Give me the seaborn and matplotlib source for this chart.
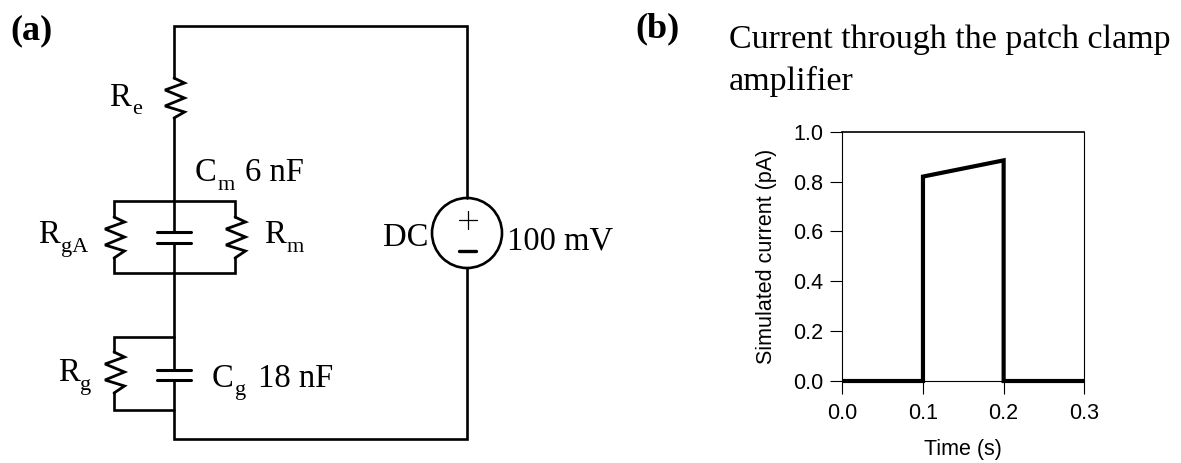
import matplotlib
matplotlib.use('Agg')
import matplotlib.pyplot as plt
import pandas as pd
import seaborn as sns

# Current trace, panel (b)
time_s = [0.0, 0.1, 0.1, 0.2, 0.2, 0.3]
current_pa = [0.0, 0.0, 0.82, 0.885, 0.0, 0.0]
x_ticks = [0.0, 0.1, 0.2, 0.3]
y_ticks = [0.0, 0.2, 0.4, 0.6, 0.8, 1.0]

# Circuit wires, panel (a), in image pixels
wires = [
    [(174, 78), (174, 26), (467, 26), (467, 198)],
    [(467, 268), (467, 439), (174, 439), (174, 380)],
    [(174, 118), (174, 232)],
    [(114, 217), (114, 201), (235, 201), (235, 217)],
    [(114, 258), (114, 273), (235, 273), (235, 258)],
    [(174, 243), (174, 370)],
    [(114, 352), (114, 337), (174, 337)],
    [(114, 393), (114, 410), (174, 410)],
]
resistors = [(174, 78, 118), (114, 217, 258), (235, 217, 258), (114, 352, 393)]
plates = [(157, 191, 232), (157, 191, 243), (157, 191, 370), (157, 191, 380)]

# label, x, baseline, size
serif_labels = [
    ('R', 109, 106, 23.5), ('e', 132, 114, 16),
    ('C', 195, 181, 23.5), ('m', 218, 190, 16), ('6 nF', 245, 181, 23.5),
    ('R', 38, 243, 23.5), ('gA', 61, 252, 16),
    ('R', 264, 243, 23.5), ('m', 287, 252, 16),
    ('R', 58, 381, 23.5), ('g', 80, 390, 16),
    ('C', 212, 387, 23.5), ('g', 235, 395, 16), ('18 nF', 258, 387, 23.5),
    ('DC', 383, 246, 23.5), ('100 mV', 507, 250, 23.5),
    ('Current through the patch clamp', 729, 48, 24.5),
    ('amplifier', 729, 90, 24.5),
]
bold_labels = [('(a)', 10, 39, 26), ('(b)', 635, 37, 26)]

W, H = 1181, 463

sns.set_theme(style='ticks')
plt.rcParams['font.family'] = ['Liberation Sans', 'DejaVu Sans']

fig = plt.figure(figsize=(W / 100, H / 100), dpi=100)

# Panel (a): schematic, overlay axes in pixel units
bg = fig.add_axes([0, 0, 1, 1])
bg.set_xlim(0, W)
bg.set_ylim(H, 0)
bg.axis('off')

for w in wires:
    bg.plot([p[0] for p in w], [p[1] for p in w], color='black', lw=1.9, solid_joinstyle='miter')
for x, top, bot in resistors:
    offs = [0, 10.5, -9, 10.5, -9, 10.5, 0]
    ys = [top, top + 5, top + 12, top + 20, top + 28, top + 34, bot]
    bg.plot([x + o for o in offs], ys, color='black', lw=2, solid_joinstyle='miter')
for x0, x1, y in plates:
    bg.plot([x0, x1], [y, y], color='black', lw=2.2)

bg.add_patch(plt.Circle((467, 233), 35, fill=False, ec='black', lw=1.9))
bg.plot([459, 477], [220, 220], color='black', lw=0.9)
bg.plot([468, 468], [211, 229], color='black', lw=0.9)
bg.plot([459, 476], [251, 251], color='black', lw=2.4)

for txt, x, y, size in serif_labels:
    bg.text(x, y, txt, fontsize=size, family='Liberation Serif', va='baseline', ha='left', color='black')
for txt, x, y, size in bold_labels:
    bg.text(x, y, txt, fontsize=size, family='Liberation Serif', weight='bold', va='baseline', ha='left', color='black')

# Panel (b): current trace
ax = fig.add_axes([842.3 / W, 1 - 381 / H, 242 / W, 249.3 / H])
df = pd.DataFrame({'time': time_s, 'current': current_pa})
sns.lineplot(data=df, x='time', y='current', ax=ax, estimator=None, sort=False,
             color='black', lw=3, clip_on=False, solid_joinstyle='miter', solid_capstyle='butt')
ax.set_xlim(0, 0.3)
ax.set_ylim(0, 1)
ax.set_xticks(x_ticks)
ax.set_yticks(y_ticks)
ax.set_xticklabels(['%.1f' % v for v in x_ticks])
ax.set_yticklabels(['%.1f' % v for v in y_ticks])
ax.tick_params(length=9, width=0.8, color='black', labelsize=15.5, labelcolor='black', pad=4.5)
ax.tick_params(axis='x', pad=6.5)
ax.set_xlabel('Time (s)', fontsize=15.5, color='black', labelpad=11)
ax.set_ylabel('Simulated current (pA)', fontsize=15.5, color='black', labelpad=12)
for name, sp in ax.spines.items():
    sp.set_visible(True)
    sp.set_color('black')
    sp.set_linewidth(0.8)
ax.spines['top'].set_linewidth(1.2)

fig.savefig('out.png', dpi=100)
